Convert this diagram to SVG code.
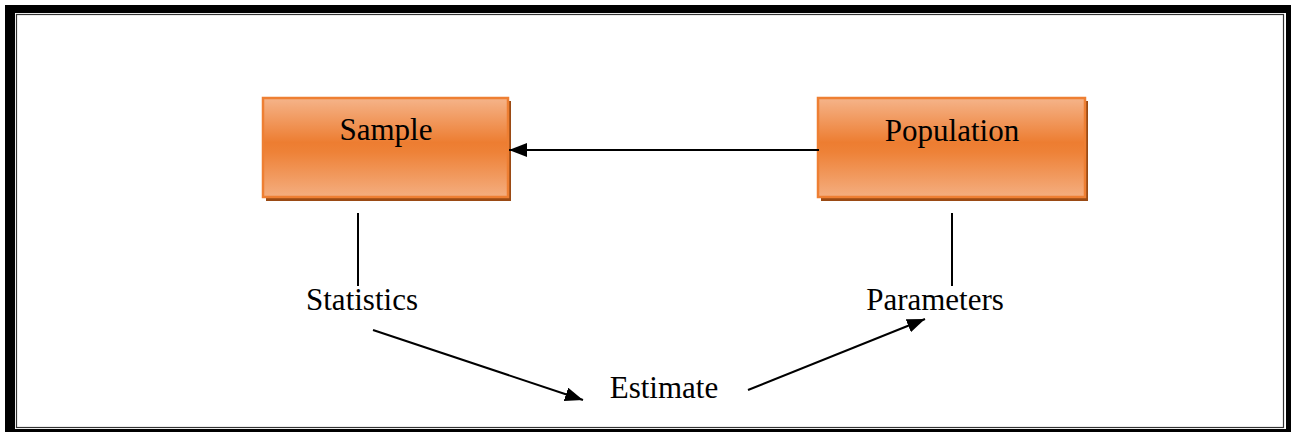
<svg xmlns="http://www.w3.org/2000/svg" width="1293" height="434" viewBox="0 0 1293 434">
<style>
.lbl{font-family:"Liberation Serif","Times New Roman",serif;font-size:31px;fill:#000;text-anchor:middle}
.box{fill:url(#og);stroke:#EE7F33;stroke-width:2.5}
.shadow{fill:#9A4A14}
.ln{stroke:#000;stroke-width:2;fill:none}
</style>
<defs>
<linearGradient id="og" x1="0" y1="0" x2="0" y2="1">
<stop offset="0" stop-color="#F5B48A"/>
<stop offset="0.45" stop-color="#ED7D31"/>
<stop offset="0.55" stop-color="#EE8238"/>
<stop offset="1" stop-color="#F4AE80"/>
</linearGradient>
<marker id="ah" viewBox="0 0 18 14" refX="18" refY="7" markerWidth="18" markerHeight="14" markerUnits="userSpaceOnUse" orient="auto">
<path d="M0,0 L18,7 L0,14 Z" fill="#000"/>
</marker>
</defs>
<rect width="1293" height="434" fill="#fff"/>
<g id="frame">
<path d="M5,5 H1291 V432 H5 Z M15,13 V429 H1286 V13 Z" fill="#000" fill-rule="evenodd"/>
<rect x="16.5" y="14.5" width="1267" height="413" fill="none" stroke="#333" stroke-width="1.2"/>
</g>
<g id="sample">
<rect class="shadow" x="266" y="101" width="245" height="100"/>
<rect class="box" x="263" y="98" width="245" height="99"/>
<text class="lbl" x="386" y="140">Sample</text>
</g>
<g id="population">
<rect class="shadow" x="821" y="101" width="267" height="100"/>
<rect class="box" x="818" y="98" width="267" height="99"/>
<text class="lbl" x="952" y="141">Population</text>
</g>
<g id="statistics"><text class="lbl" x="362" y="310">Statistics</text></g>
<g id="parameters"><text class="lbl" x="935" y="310">Parameters</text></g>
<g id="estimate"><text class="lbl" x="664" y="398">Estimate</text></g>
<g id="connectors">
<line class="ln" x1="819" y1="150" x2="509" y2="150" marker-end="url(#ah)"/>
<line class="ln" x1="358" y1="213" x2="358" y2="286"/>
<line class="ln" x1="952" y1="213" x2="952" y2="286"/>
<line class="ln" x1="373" y1="330" x2="583" y2="400" marker-end="url(#ah)"/>
<line class="ln" x1="748" y1="390" x2="925" y2="319" marker-end="url(#ah)"/>
</g>
</svg>
